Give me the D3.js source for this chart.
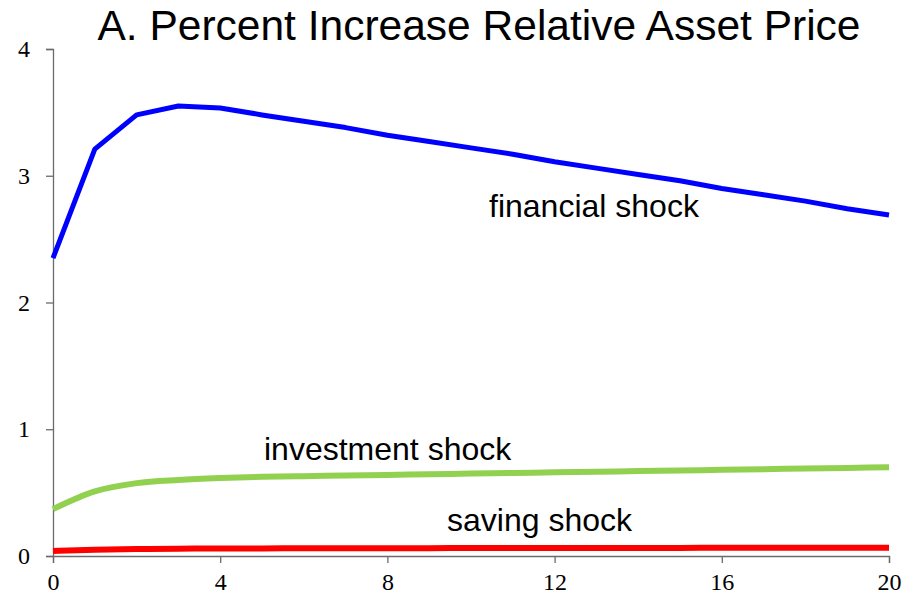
<!DOCTYPE html>
<html>
<head>
<meta charset="utf-8">
<script src="https://cdn.jsdelivr.net/npm/d3@7"></script>
<style>
  body { margin: 0; background: #fff; }
  svg { display: block; }
</style>
</head>
<body>
<div id="chart"></div>
<script>
"use strict"

// quarters after the shock
var periods = d3.range(0, 21);
var xTicks = [0, 4, 8, 12, 16, 20];
var yTicks = [0, 1, 2, 3, 4];

// percent increase in relative asset price
var financialShock = [2.35, 3.21, 3.48, 3.55, 3.535, 3.48, 3.43, 3.38, 3.32, 3.27, 3.22, 3.17, 3.11, 3.06, 3.01, 2.96, 2.90, 2.85, 2.80, 2.74, 2.69];
var investmentShock = [0.37, 0.51, 0.575, 0.60, 0.615, 0.625, 0.63, 0.635, 0.64, 0.645, 0.65, 0.655, 0.66, 0.665, 0.67, 0.675, 0.68, 0.685, 0.69, 0.695, 0.70];
var savingShock = [0.04, 0.05, 0.055, 0.058, 0.06, 0.06, 0.061, 0.061, 0.062, 0.062, 0.063, 0.063, 0.063, 0.064, 0.064, 0.064, 0.065, 0.065, 0.065, 0.066, 0.066];

var series = [
    {name: "saving shock", values: savingShock, color: "#ff0000", width: 6, curve: d3.curveMonotoneX, label: [447, 531]},
    {name: "investment shock", values: investmentShock, color: "#92d050", width: 6, curve: d3.curveMonotoneX, label: [264, 460]},
    {name: "financial shock", values: financialShock, color: "#0000ff", width: 5, curve: d3.curveLinear, label: [489, 217]}
];

var width = 907, height = 601;
var margin = {top: 49, right: 18, bottom: 45, left: 53};

var svg = d3.select("#chart")
    .append("svg")
    .attr("width", width)
    .attr("height", height);

var x = d3.scaleLinear()
    .domain([0, 20])
    .range([margin.left, width - margin.right]);
var y = d3.scaleLinear()
    .domain([0, 4])
    .range([height - margin.bottom, margin.top]);

// title
svg.append("text")
    .attr("x", 479)
    .attr("y", 40)
    .attr("text-anchor", "middle")
    .style("font-family", "'Liberation Sans', Arial, sans-serif")
    .style("font-size", "42.5px")
    .text("A. Percent Increase Relative Asset Price");

// axes
var xAxis = svg.append("g")
    .attr("transform", "translate(0," + y(0) + ")")
    .call(d3.axisBottom(x).tickValues(xTicks).tickFormat(d3.format("d"))
        .tickSizeOuter(0).tickSize(7).tickPadding(10));
var yAxis = svg.append("g")
    .attr("transform", "translate(" + x(0) + ",0)")
    .call(d3.axisLeft(y).tickValues(yTicks).tickFormat(d3.format("d"))
        .tickSizeOuter(0).tickSize(7).tickPadding(16));

[xAxis, yAxis].forEach(function(ax) {
    ax.select(".domain").attr("stroke", "#6b6b6b").attr("stroke-width", 1.3);
    ax.selectAll(".tick line").attr("stroke", "#6b6b6b").attr("stroke-width", 1.3);
    ax.selectAll(".tick text")
        .attr("fill", "#000")
        .style("font-family", "'Liberation Serif', 'Times New Roman', serif")
        .style("font-size", "24px");
});

// lines
series.forEach(function(s) {
    var line = d3.line()
        .x(function(d, i) { return x(periods[i]); })
        .y(function(d) { return y(d); })
        .curve(s.curve);
    svg.append("path")
        .datum(s.values)
        .attr("fill", "none")
        .attr("stroke", s.color)
        .attr("stroke-width", s.width)
        .attr("stroke-linejoin", "round")
        .attr("d", line);
    svg.append("text")
        .attr("x", s.label[0])
        .attr("y", s.label[1])
        .style("font-family", "'Liberation Sans', Arial, sans-serif")
        .style("font-size", "32px")
        .text(s.name);
});
</script>
</body>
</html>
